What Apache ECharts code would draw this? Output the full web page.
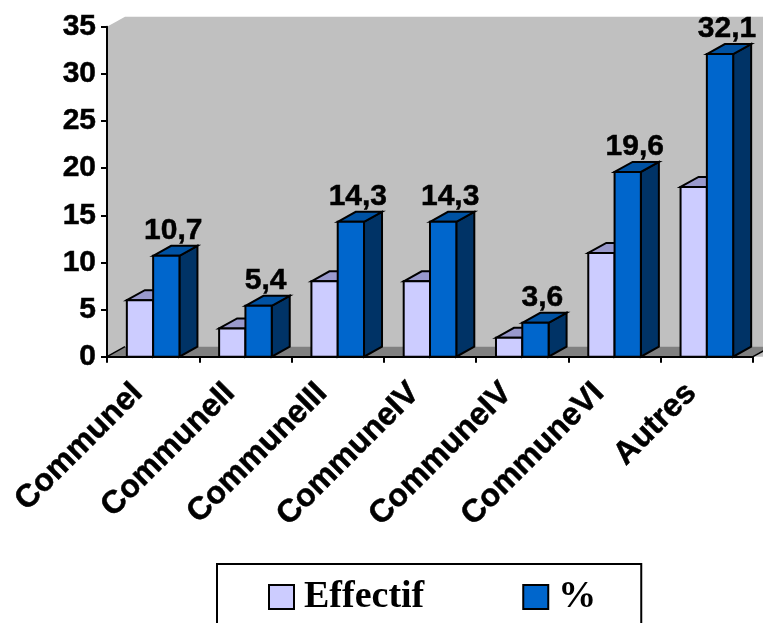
<!DOCTYPE html>
<html>
<head>
<meta charset="utf-8">
<style>html,body{margin:0;padding:0;background:#fff;overflow:hidden}#chart{width:763px;height:623px}</style>
<script src="https://cdn.jsdelivr.net/npm/echarts@6/dist/echarts.min.js"></script>
</head>
<body>
<div id="chart"></div>
<script>
const categories = ['CommuneI', 'CommuneII', 'CommuneIII', 'CommuneIV', 'CommuneIV', 'CommuneVI', 'Autres'];
const effectif = [6, 3, 8, 8, 2, 11, 18];
const percent = [10.7, 5.4, 14.3, 14.3, 3.6, 19.6, 32.1];
const yTickStep = 5;
const yMax = 35;

// Oblique offset of the extruded depth, in pixels
const DEPTH_X = 18;
const DEPTH_Y = -10;
const BAR_FRACTION = 0.285;

const chart = echarts.init(document.getElementById('chart'), null, { renderer: 'canvas' });

function poly(points, fill, stroke) {
  return {
    type: 'polygon',
    shape: { points },
    style: { fill, stroke: stroke || null, lineWidth: stroke ? 2 : 0, lineJoin: 'miter' }
  };
}

function edge(a, b) {
  return {
    type: 'line',
    shape: { x1: a[0], y1: a[1], x2: b[0], y2: b[1] },
    style: { stroke: '#000', lineWidth: 1.5 }
  };
}

// Back wall and floor of the pseudo-3D plot box
function renderBox(params, api) {
  const cs = params.coordSys;
  const l = cs.x, r = cs.x + cs.width, t = cs.y, b = cs.y + cs.height;
  return {
    type: 'group',
    children: [
      poly([[l, t], [l + DEPTH_X, t + DEPTH_Y], [r + DEPTH_X, t + DEPTH_Y], [r + DEPTH_X, b], [l, b]], '#c0c0c0'),
      poly([[l, b], [l + DEPTH_X, b + DEPTH_Y], [r + DEPTH_X, b + DEPTH_Y], [r, b]], '#808080'),
      edge([l, b], [l + DEPTH_X, b + DEPTH_Y]),
      edge([r, b], [r + DEPTH_X, b + DEPTH_Y])
    ]
  };
}

// One extruded column: slot -1 sits left of the band centre, slot 0 right of it
function columnRenderer(slot, front, top, side, withLabel) {
  return function (params, api) {
    const i = api.value(0), v = api.value(1);
    const [cx, y1] = api.coord([i, v]);
    const [, y0] = api.coord([i, 0]);
    const w = api.size([1, 0])[0] * BAR_FRACTION;
    const x0 = cx + slot * w, x1 = x0 + w;
    const dx = DEPTH_X, dy = DEPTH_Y;
    const children = [
      poly([[x1, y1], [x1 + dx, y1 + dy], [x1 + dx, y0 + dy], [x1, y0]], side, '#000'),
      poly([[x0, y1], [x0 + dx, y1 + dy], [x1 + dx, y1 + dy], [x1, y1]], top, '#000'),
      poly([[x0, y1], [x1, y1], [x1, y0], [x0, y0]], front, '#000')
    ];
    if (withLabel) {
      children.push({
        type: 'text',
        z2: 10,
        style: {
          x: x0 + w / 2 + 7,
          y: y1 - 10,
          text: v.toFixed(1).replace('.', ','),
          fill: '#000',
          stroke: '#000',
          lineWidth: 0.5,
          font: 'bold 30px "Liberation Sans", Arial, sans-serif',
          align: 'center',
          verticalAlign: 'bottom'
        }
      });
    }
    return { type: 'group', children };
  };
}

function toPairs(values) {
  return values.map((v, i) => [i, v]);
}

const axisFont = {
  fontFamily: '"Liberation Sans", Arial, sans-serif',
  fontWeight: 'bold',
  color: '#000',
  textBorderColor: '#000',
  textBorderWidth: 0.5
};

chart.setOption({
  animation: false,
  backgroundColor: '#fff',
  grid: { left: 107, right: 10, top: 26.7, bottom: 266.3, containLabel: false },
  legend: {
    left: 217,
    top: 564,
    data: ['Effectif', '%'],
    icon: 'rect',
    itemWidth: 25,
    itemHeight: 24,
    itemGap: 98,
    padding: [14, 45, 40, 51],
    borderColor: '#000',
    borderWidth: 2,
    backgroundColor: '#fff',
    selectedMode: false,
    textStyle: {
      fontFamily: '"Liberation Serif", "Times New Roman", serif',
      fontWeight: 'bold',
      fontSize: 38,
      color: '#000',
      padding: [0, 0, 0, 5]
    }
  },
  xAxis: {
    type: 'category',
    data: categories,
    z: 5,
    axisLine: { show: true, lineStyle: { color: '#000', width: 2 } },
    axisTick: { show: true, length: 6, lineStyle: { color: '#000', width: 2 } },
    axisLabel: { ...axisFont, fontSize: 32, rotate: 45, margin: 16, padding: [0, 22, 0, 0], interval: 0 },
    splitLine: { show: false }
  },
  yAxis: {
    type: 'value',
    min: 0,
    max: yMax,
    interval: yTickStep,
    z: 5,
    axisLine: { show: true, lineStyle: { color: '#000', width: 2 } },
    axisTick: { show: true, length: 6, lineStyle: { color: '#000', width: 2 } },
    axisLabel: { ...axisFont, fontSize: 30, margin: 11, padding: [3, 0, 0, 0] },
    splitLine: { show: false }
  },
  series: [
    {
      name: 'box',
      type: 'custom',
      z: 1,
      silent: true,
      clip: false,
      data: [[0, 0]],
      encode: { x: 0, y: 1 },
      renderItem: renderBox
    },
    {
      name: 'Effectif',
      type: 'custom',
      z: 2,
      clip: false,
      itemStyle: { color: '#ccccff', borderColor: '#000', borderWidth: 2 },
      data: toPairs(effectif),
      encode: { x: 0, y: 1 },
      renderItem: columnRenderer(-1, '#ccccff', '#9999cc', '#666699', false)
    },
    {
      name: '%',
      type: 'custom',
      z: 3,
      clip: false,
      itemStyle: { color: '#0066cc', borderColor: '#000', borderWidth: 2 },
      data: toPairs(percent),
      encode: { x: 0, y: 1 },
      renderItem: columnRenderer(0, '#0066cc', '#0052a3', '#003366', true)
    }
  ]
});
</script>
</body>
</html>
